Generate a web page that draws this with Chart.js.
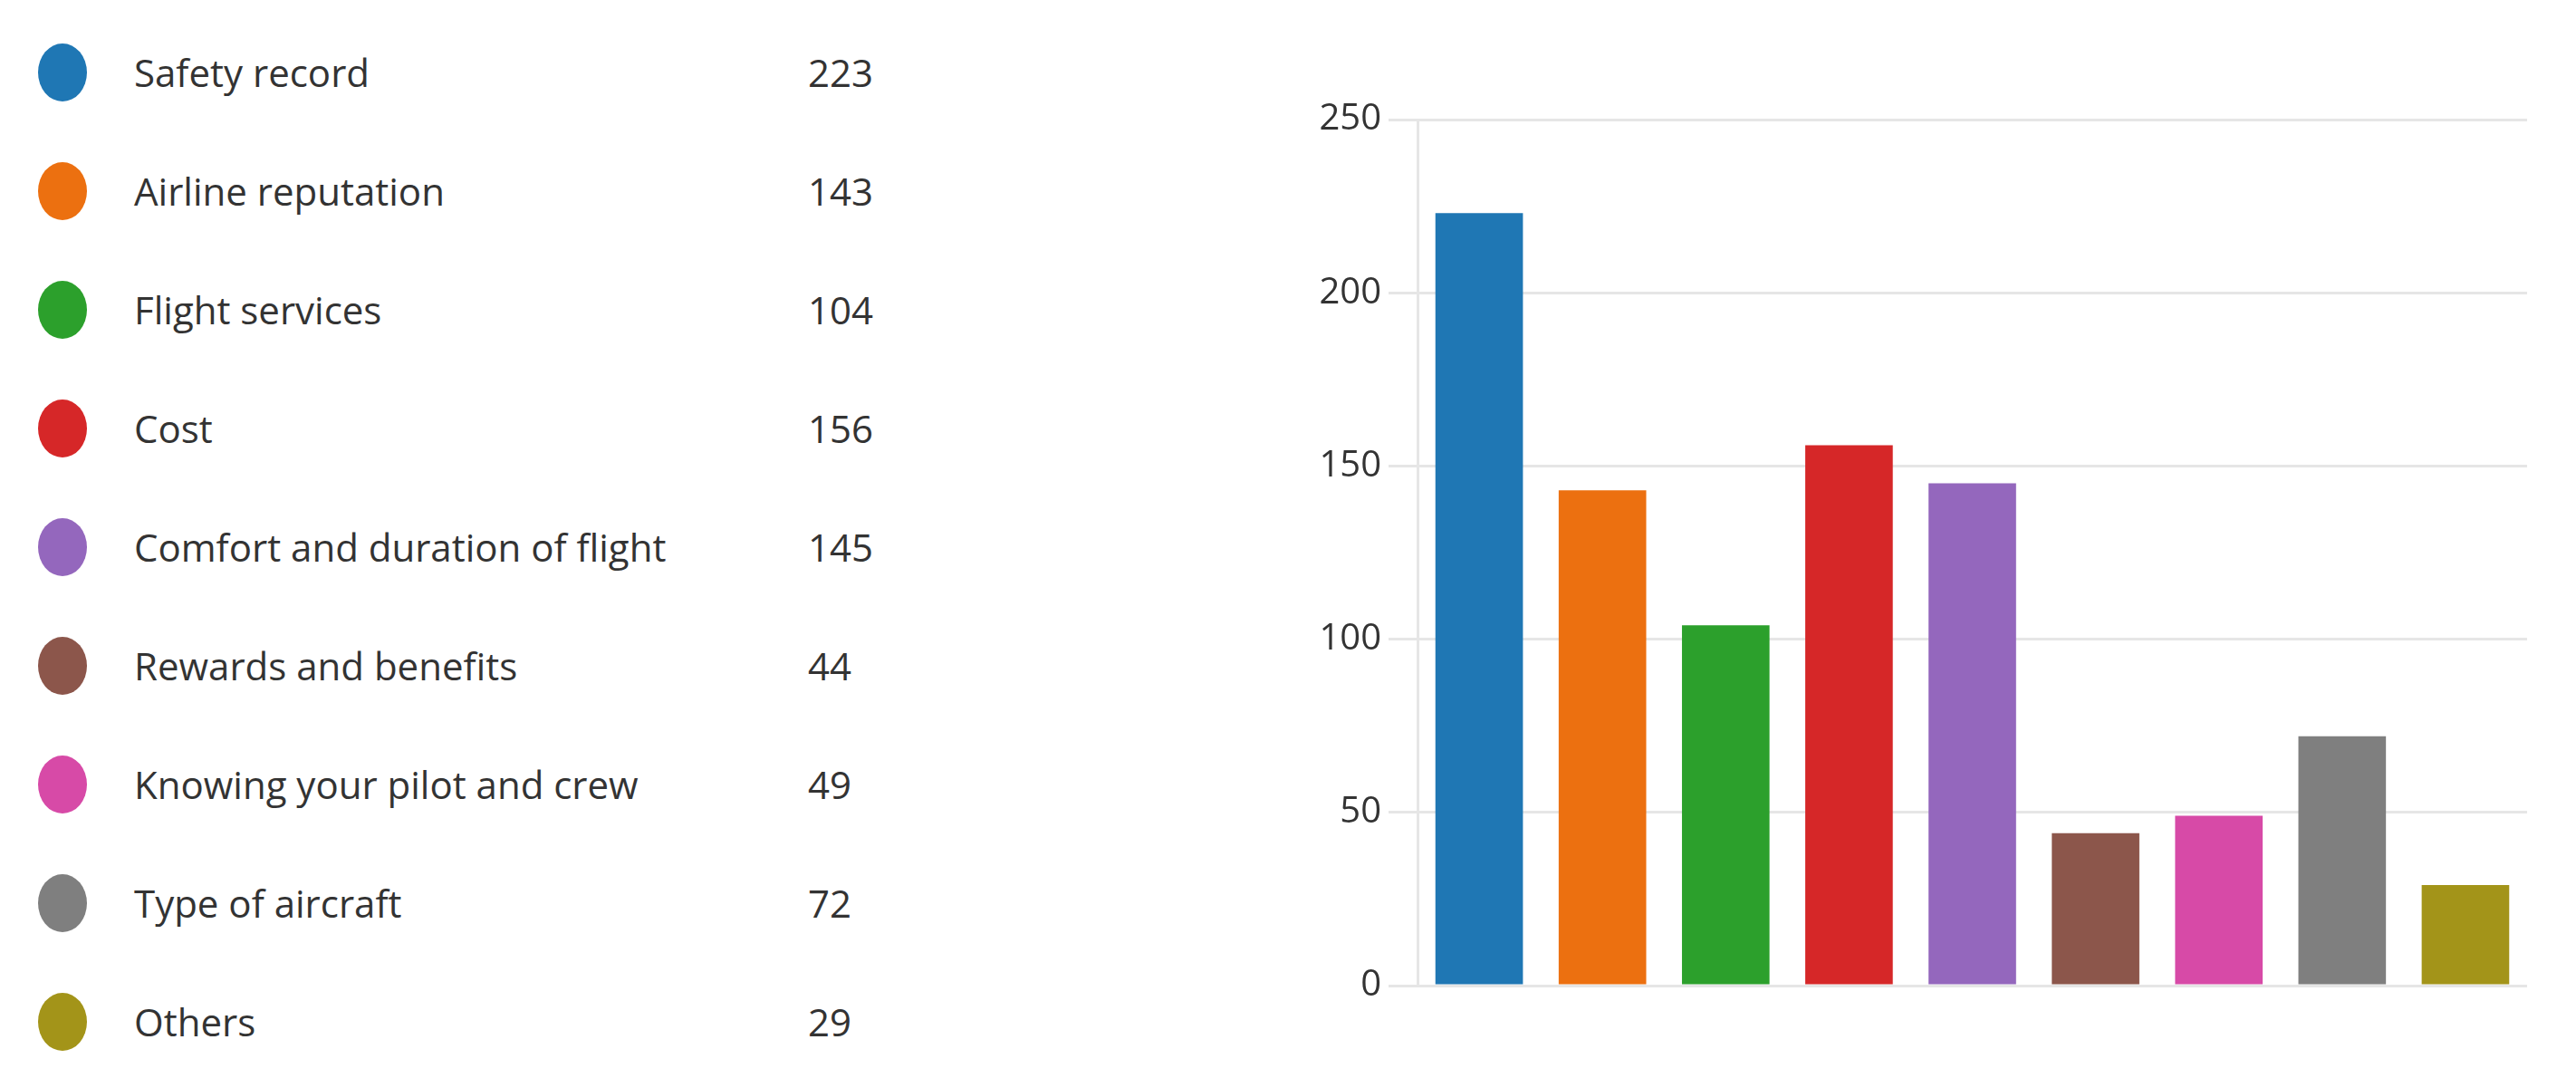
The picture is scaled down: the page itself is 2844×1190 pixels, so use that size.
<!DOCTYPE html>
<html>
<head>
<meta charset="utf-8">
<script src="https://cdn.jsdelivr.net/npm/chart.js@4/dist/chart.umd.min.js"></script>
<style>
  body { margin: 0; background: #fff; width: 2844px; height: 1190px; position: relative; overflow: hidden; font-family: "Open Sans", "Noto Sans", sans-serif; }
  #legend { position: absolute; left: 0; top: 0; }
  .row { position: absolute; height: 70px; width: 1000px; }
  .dot { position: absolute; left: 42px; top: 2px; width: 54px; height: 64px; border-radius: 50%; }
  .lab { position: absolute; left: 148px; top: 4px; font-size: 42px; color: #333; line-height: 60px; white-space: nowrap; }
  .val { position: absolute; left: 892px; top: 4px; font-size: 42px; color: #333; line-height: 60px; }
  #wrap { position: absolute; left: 1400px; top: 100px; width: 1390px; height: 1020px; }
</style>
</head>
<body>
<div id="legend"></div>
<div id="wrap"><canvas id="myChart"></canvas></div>
<script>
const categories = ["Safety record", "Airline reputation", "Flight services", "Cost", "Comfort and duration of flight",
  "Rewards and benefits", "Knowing your pilot and crew", "Type of aircraft", "Others"];
const counts = [223, 143, 104, 156, 145, 44, 49, 72, 29];
const colors = ["#1f77b4", "#ec7010", "#2ca02c", "#d62728", "#9467bd", "#8c564b", "#d74aa7", "#7f7f7f", "#a39419"];
const yTicks = [0, 50, 100, 150, 200, 250];

// legend list on the left
const legend = document.getElementById('legend');
categories.forEach((c, i) => {
  const row = document.createElement('div');
  row.className = 'row';
  row.style.top = (46 + i * 131) + 'px';
  row.innerHTML = `<div class="dot" style="background:${colors[i]}"></div><div class="lab">${c}</div><div class="val">${counts[i]}</div>`;
  legend.appendChild(row);
});

var ctx = document.getElementById('myChart').getContext('2d');
var chart = new Chart(ctx, {
  type: 'bar',
  data: {
    labels: categories,
    datasets: [{ data: counts, backgroundColor: colors, barPercentage: 0.71, categoryPercentage: 1 }]
  },
  options: {
    responsive: true,
    maintainAspectRatio: false,
    animation: false,
    layout: { padding: { top: 10, right: 0, bottom: 0, left: 0 } },
    plugins: { legend: { display: false }, tooltip: { enabled: false } },
    scales: {
      x: { display: true, ticks: { display: false }, grid: { display: false, drawTicks: false }, border: { color: '#e6e6e6', width: 3 } },
      y: {
        min: 0, max: 250,
        afterBuildTicks: (s) => { s.ticks = yTicks.map(v => ({ value: v })); },
        afterFit: (s) => { s.width = 165; },
        ticks: { color: '#333', font: { family: 'Open Sans', size: 40 }, padding: 8 },
        grid: { color: '#e6e6e6', lineWidth: 3, tickLength: 32 },
        border: { color: '#e6e6e6', width: 3 }
      }
    }
  }
});
</script>
</body>
</html>
